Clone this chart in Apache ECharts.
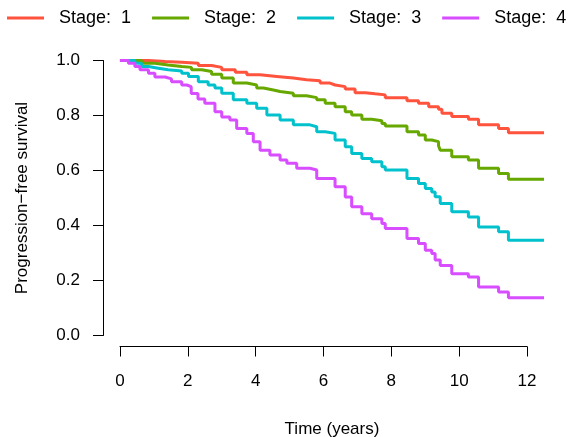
<!DOCTYPE html>
<html>
<head>
<meta charset="utf-8">
<script src="https://cdn.jsdelivr.net/npm/echarts@6/dist/echarts.min.js"></script>
<style>html,body{margin:0;padding:0;background:#fff}#c{width:574px;height:437px}</style>
</head>
<body>
<div id="c"></div>
<script>
const seriesNames = ['Stage:  1', 'Stage:  2', 'Stage:  3', 'Stage:  4'];
const colors = ['#FF533D', '#66A800', '#00C1CC', '#D84DFF'];

const times1 = [0, 0.84, 1.33, 1.82, 2.31, 2.7, 3.0, 3.4, 3.74, 4.13, 4.62, 5.11, 5.5, 5.9, 6.19, 6.34, 6.64, 6.93, 7.23, 7.52, 7.82, 8.46, 8.8, 9.1, 9.39, 9.49, 9.78, 10.27, 10.57, 11.16, 11.45, 12.5];
const surv1 = [1, 0.996, 0.994, 0.99, 0.982, 0.975, 0.966, 0.957, 0.948, 0.942, 0.936, 0.93, 0.926, 0.918, 0.911, 0.905, 0.896, 0.883, 0.879, 0.875, 0.865, 0.854, 0.845, 0.832, 0.823, 0.808, 0.796, 0.786, 0.766, 0.753, 0.737, 0.737];

const times2 = [0, 0.64, 1.03, 1.42, 1.82, 2.11, 2.41, 2.7, 3.0, 3.34, 3.74, 4.03, 4.23, 4.52, 4.72, 5.11, 5.5, 5.8, 6.05, 6.34, 6.64, 6.83, 7.13, 7.42, 7.72, 7.82, 8.46, 8.8, 9.0, 9.19, 9.39, 9.44, 9.78, 10.27, 10.57, 11.16, 11.45, 12.5];
const surv2 = [1, 0.99, 0.984, 0.978, 0.975, 0.966, 0.96, 0.95, 0.936, 0.918, 0.911, 0.9, 0.893, 0.887, 0.881, 0.872, 0.865, 0.857, 0.845, 0.832, 0.814, 0.802, 0.786, 0.781, 0.771, 0.762, 0.741, 0.729, 0.711, 0.705, 0.69, 0.674, 0.65, 0.638, 0.608, 0.589, 0.568, 0.568];

const times3 = [0, 0.44, 0.64, 0.84, 1.13, 1.42, 1.82, 2.02, 2.31, 2.6, 2.8, 3.0, 3.34, 3.74, 4.03, 4.33, 4.72, 5.11, 5.6, 5.8, 6.05, 6.34, 6.64, 6.83, 7.13, 7.42, 7.72, 7.82, 8.46, 8.8, 9.0, 9.19, 9.29, 9.44, 9.78, 10.27, 10.57, 11.16, 11.45, 12.5];
const surv3 = [1, 0.99, 0.978, 0.972, 0.966, 0.962, 0.954, 0.942, 0.923, 0.911, 0.9, 0.881, 0.857, 0.845, 0.826, 0.802, 0.784, 0.766, 0.759, 0.741, 0.735, 0.711, 0.686, 0.662, 0.644, 0.632, 0.614, 0.602, 0.571, 0.553, 0.535, 0.522, 0.505, 0.48, 0.45, 0.431, 0.395, 0.377, 0.346, 0.346];

const times4 = [0, 0.25, 0.44, 0.59, 0.84, 1.03, 1.33, 1.52, 1.82, 1.97, 2.1, 2.3, 2.5, 2.8, 3.0, 3.24, 3.44, 3.74, 3.93, 4.13, 4.42, 4.72, 4.92, 5.21, 5.6, 5.8, 6.34, 6.64, 6.83, 7.13, 7.42, 7.72, 7.82, 8.46, 8.8, 9.0, 9.19, 9.29, 9.44, 9.78, 10.27, 10.57, 11.16, 11.45, 12.5];
const surv4 = [1, 0.99, 0.978, 0.966, 0.954, 0.94, 0.933, 0.923, 0.911, 0.905, 0.88, 0.86, 0.845, 0.814, 0.795, 0.784, 0.753, 0.735, 0.705, 0.674, 0.656, 0.638, 0.626, 0.608, 0.602, 0.571, 0.541, 0.504, 0.468, 0.443, 0.425, 0.407, 0.389, 0.353, 0.335, 0.31, 0.298, 0.275, 0.255, 0.225, 0.213, 0.176, 0.158, 0.137, 0.137];

const xTicks = [0, 2, 4, 6, 8, 10, 12];
const yTicks = [0, 0.2, 0.4, 0.6, 0.8, 1.0];

const allTimes = [times1, times2, times3, times4];
const allSurv = [surv1, surv2, surv3, surv4];

const FONT = 'Liberation Sans';
const chart = echarts.init(document.getElementById('c'), null, {renderer: 'canvas'});

// R-style plot region: data range extended by 4% on each side
const xLo = xTicks[0], xHi = 12.5, yLo = yTicks[0], yHi = yTicks[yTicks.length - 1];
const xPad = (xHi - xLo) * 0.04, yPad = (yHi - yLo) * 0.04;

const series = seriesNames.map((name, i) => ({
  name: name,
  type: 'line',
  step: 'end',
  xAxisIndex: 0,
  yAxisIndex: 0,
  showSymbol: false,
  symbol: 'none',
  color: colors[i],
  lineStyle: {width: 3, color: colors[i]},
  data: allTimes[i].map((t, j) => [t, allSurv[i][j]])
}));

chart.setOption({
  animation: false,
  textStyle: {fontFamily: FONT, color: '#000'},
  legend: {
    top: 9,
    left: 7,
    width: 567,
    padding: 0,
    itemWidth: 37,
    itemHeight: 3,
    itemGap: 21,
    icon: 'rect',
    textStyle: {fontFamily: FONT, fontSize: 18, color: '#000', padding: [0, 0, 0, 10]},
    data: seriesNames
  },
  grid: [
    {left: 103, right: 13, top: 49.5, bottom: 90.5, containLabel: false, outerBoundsMode: 'none'},
    {left: 120, right: 47, top: 60.5, bottom: 101.5, containLabel: false, outerBoundsMode: 'none'}
  ],
  xAxis: [
    {
      type: 'value', gridIndex: 0,
      min: xLo - xPad, max: xHi + xPad,
      show: false, splitLine: {show: false}
    },
    {
      type: 'value', gridIndex: 1,
      min: xTicks[0],
      max: xTicks[xTicks.length - 1],
      interval: 2,
      offset: 11,
      name: 'Time (years)',
      nameLocation: 'middle',
      nameGap: 74,
      nameTextStyle: {fontFamily: FONT, fontSize: 17, color: '#000', padding: [0, 0, 0, 17]},
      axisLine: {show: true, onZero: false, lineStyle: {color: '#000', width: 1}},
      axisTick: {show: true, length: 10, lineStyle: {color: '#000'}},
      axisLabel: {fontFamily: FONT, fontSize: 17, color: '#000', margin: 26},
      splitLine: {show: false}
    }
  ],
  yAxis: [
    {
      type: 'value', gridIndex: 0,
      min: yLo - yPad, max: yHi + yPad,
      show: false, splitLine: {show: false}
    },
    {
      type: 'value', gridIndex: 1,
      min: yTicks[0],
      max: yTicks[yTicks.length - 1],
      interval: 0.2,
      offset: 17,
      name: 'Progression\u2212free survival',
      nameLocation: 'middle',
      nameGap: 72,
      nameTextStyle: {fontFamily: FONT, fontSize: 17, color: '#000'},
      axisLine: {show: true, onZero: false, lineStyle: {color: '#000', width: 1}},
      axisTick: {show: true, length: 10, lineStyle: {color: '#000'}},
      axisLabel: {fontFamily: FONT, fontSize: 17, color: '#000', margin: 23, formatter: v => v.toFixed(1)},
      splitLine: {show: false}
    }
  ],
  series: series
});
</script>
</body>
</html>
